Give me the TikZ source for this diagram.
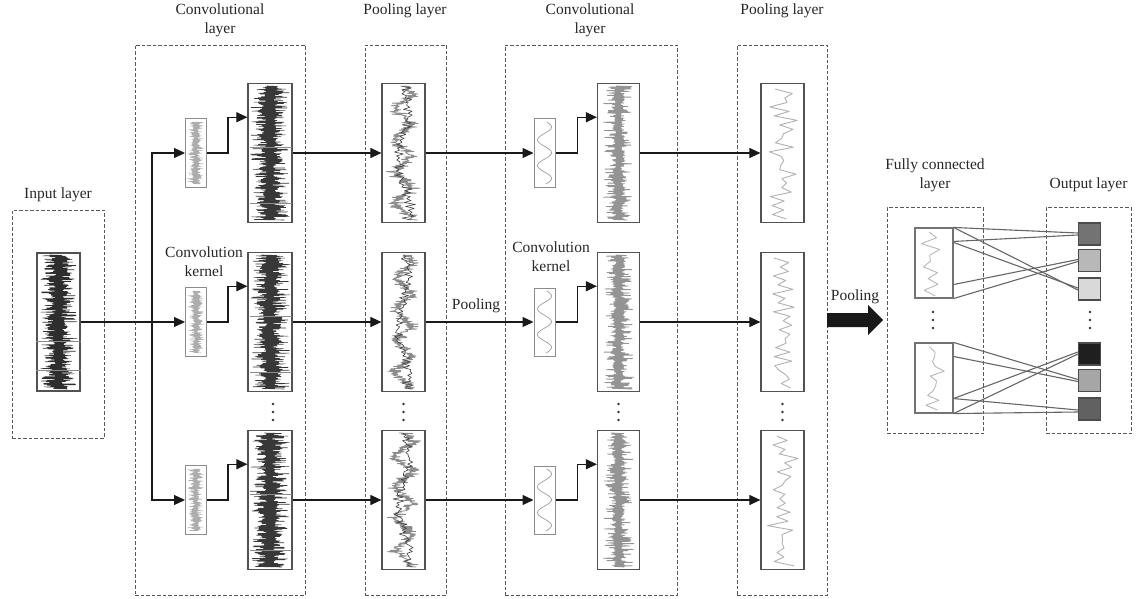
\documentclass[tikz,border=0pt]{standalone}
\usepackage{fontspec}
\setmainfont{Liberation Serif}
\usetikzlibrary{arrows.meta,calc}
% dense alternating waveform: cx, top, bottom, amp, N, colour, width, phase
\newcommand\densesig[8]{\draw[#6,line width=#7,line join=round] plot[variable=\i,domain=1:#5,samples=#5] ({#1+#4*(0.2+0.8*rnd)*(0.5+0.5*abs(sin(\i*(#8))))*cos(180*mod(\i,2))},{(#2)+(\i-1)*(((#3)-(#2))/(#5-1))});}
% spiky waveform
\newcommand\spikesig[7]{\draw[#6,line width=#7,line join=round] plot[variable=\i,domain=1:#5,samples=#5] ({#1+#4*(0.12+0.25*rnd+1.3*max(0,rnd-0.55))*cos(180*mod(\i,2))},{(#2)+(\i-1)*(((#3)-(#2))/(#5-1))});}
% irregular zigzag
\newcommand\zigsig[7]{\draw[#6,line width=#7,line join=round] plot[variable=\i,domain=1:#5,samples=#5] ({#1+#4*(0.45*rand+0.55*(0.2+0.8*rnd)*cos(180*mod(\i,2)))},{(#2)+(\i-1)*(((#3)-(#2))/(#5-1))});}
% wandering dense noisy line
\newcommand\wandersig[7]{\draw[#6,line width=#7,line join=round] plot[variable=\i,domain=1:#5,samples=#5] ({#1+#4*(0.45*sin(\i*7)+0.25*rand+0.35*rnd*cos(180*mod(\i,2)))},{(#2)+(\i-1)*(((#3)-(#2))/(#5-1))});}
\newcommand\sinesig[6]{\draw[#6,line width=0.7pt,smooth] plot[variable=\t,domain=#2:#3,samples=#5] ({#1+#4*sin((\t-(#2))*14+20)},{\t});}
\newcommand\threedots[2]{\foreach \dy in {0,8,16}{\fill[black!80] (#1,#2+\dy) circle (1.3pt);}}
\begin{document}
\begin{tikzpicture}[x=1pt,y=-1pt,
 dashbox/.style={draw=black!65, line width=0.9pt, dash pattern=on 3.5pt off 2pt, rectangle, inner sep=0pt},
 sigbox/.style={draw=black!68, line width=1.2pt, fill=white, rectangle, inner sep=0pt},
 kbox/.style={draw=black!45, line width=1pt, fill=white, rectangle, inner sep=0pt},
 lbl/.style={font=\fontsize{15.5}{19}\selectfont, align=center, inner sep=0pt, text=black!85},
 arr/.style={-{Triangle[length=11pt,width=10pt]}, line width=1.1pt, black!90},
 fcl/.style={draw=black!60, line width=1.1pt},
 osq/.style={draw=black!70, line width=1.2pt, minimum size=22pt, inner sep=0pt, rectangle},
 gridl/.style={draw=black!45, line width=0.5pt}]
\useasboundingbox (0,0) rectangle (1137,599);
\pgfmathsetseed{4242}

% dashed layer boxes
\node[dashbox, minimum width=92pt, minimum height=228pt] (Lin) at (58,324) {};
\node[dashbox, minimum width=170pt, minimum height=550pt] (Lc1) at (220,320) {};
\node[dashbox, minimum width=81pt, minimum height=550pt] (Lp1) at (405.5,320) {};
\node[dashbox, minimum width=172pt, minimum height=550pt] (Lc2) at (591,320) {};
\node[dashbox, minimum width=90pt, minimum height=550pt] (Lp2) at (782,320) {};
\node[dashbox, minimum width=96pt, minimum height=226pt] (Lfc) at (935,320.5) {};
\node[dashbox, minimum width=85pt, minimum height=226pt] (Lout) at (1088.5,320.5) {};

% layer labels
\node[lbl, anchor=north] at (220,4) {Convolutional\\layer};
\node[lbl, anchor=north] at (405,4) {Pooling layer};
\node[lbl, anchor=north] at (590,4) {Convolutional\\layer};
\node[lbl, anchor=north] at (782,4) {Pooling layer};
\node[lbl, anchor=south] at ([yshift=8pt]Lin.north) {Input layer};
\node[lbl, anchor=south] at ([yshift=15pt]Lfc.north) {Fully connected\\layer};
\node[lbl, anchor=south] at ([yshift=15pt]Lout.north) {Output layer};
\node[lbl] at (204,262) {Convolution\\kernel};
\node[lbl] at (551,257) {Convolution\\kernel};
\node[lbl] at (476,306) {Pooling};
\node[lbl] at (855,297) {Pooling};

% signal boxes
\node[sigbox, minimum width=43pt, minimum height=138pt] (in) at (58.5,322) {};
\foreach \r/\y in {a/153,b/322,c/500}{
  \node[kbox, minimum width=21pt, minimum height=69pt] (k1\r) at (196,\y) {};
  \node[sigbox, minimum width=44pt, minimum height=139pt] (f1\r) at (270,\y) {};
  \node[sigbox, minimum width=43pt, minimum height=139pt] (p1\r) at (403.5,\y) {};
  \node[kbox, minimum width=21pt, minimum height=68pt] (k2\r) at (544.5,\y) {};
  \node[sigbox, minimum width=42pt, minimum height=139pt] (f2\r) at (618.5,\y) {};
  \node[sigbox, minimum width=43pt, minimum height=139pt] (p2\r) at (782.5,\y) {};
}
\node[kbox, line width=1.1pt, draw=black!55, minimum width=38pt, minimum height=70pt] (fc1) at (934,263) {};
\node[kbox, line width=1.1pt, draw=black!55, minimum width=38pt, minimum height=70pt] (fc2) at (934,378) {};

% output squares
\node[osq, fill=black!55] (o1) at (1089.5,234) {};
\node[osq, fill=black!28] (o2) at (1089.5,260.5) {};
\node[osq, fill=black!15] (o3) at (1089.5,289) {};
\node[osq, fill=black!88] (o4) at (1089.5,354) {};
\node[osq, fill=black!35] (o5) at (1089.5,380.5) {};
\node[osq, fill=black!62] (o6) at (1089.5,409) {};

% arrows
\coordinate (j) at (152,322);
\draw[arr] (in.east) -- (k1b.west);
\draw[arr] (j) |- (k1a.west);
\draw[arr] (j) |- (k1c.west);
\foreach \r in {a,b,c}{
  \draw[arr] (k1\r.east) -- ++(21,0) |- ($(f1\r.north west)!0.245!(f1\r.south west)$);
  \draw[arr] (f1\r.east) -- (p1\r.west);
  \draw[arr] (p1\r.east) -- (k2\r.west);
  \draw[arr] (k2\r.east) -- ++(22,0) |- ($(f2\r.north west)!0.245!(f2\r.south west)$);
  \draw[arr] (f2\r.east) -- (p2\r.west);
}
\fill[black!90] (827,313) -- (868,313) -- (868,305) -- (883,320) -- (868,335) -- (868,327) -- (827,327) -- cycle;

% signals
\densesig{58.5}{255}{389}{19}{320}{black!82}{0.6pt}{23}
\draw[gridl] (in.west |- 0,341) -- (in.east |- 0,341);
\draw[gridl] (in.west |- 0,370) -- (in.east |- 0,370);
\foreach \y/\ph in {153/17,322/29,500/13}{
  \densesig{270}{\y-67}{\y+67}{20}{300}{black!78}{0.6pt}{\ph}
  \densesig{196}{\y-31}{\y+31}{8.5}{130}{black!32}{0.5pt}{\ph+11}
  \wandersig{403.5}{\y-67}{\y+67}{17}{220}{black!45}{0.8pt}
  \wandersig{403.5}{\y-67}{\y+67}{12}{70}{black!75}{0.6pt}
  \sinesig{544.5}{\y-31}{\y+31}{7}{70}{black!38}
  \spikesig{618.5}{\y-67}{\y+67}{17}{230}{black!42}{0.8pt}
  \zigsig{782.5}{\y-64}{\y+66}{16}{30}{black!30}{0.9pt}
  \draw[gridl] (250,\y-6) -- (292,\y-6);
  \draw[gridl] (250,\y+50) -- (292,\y+50);
}
\zigsig{932}{232}{296}{13}{12}{black!28}{0.9pt}
\zigsig{934}{347}{410}{13}{14}{black!28}{0.9pt}

% dots
\threedots{273}{404}
\threedots{403.5}{404}
\threedots{618.5}{404}
\threedots{782.5}{404}
\threedots{933}{312}
\threedots{1090}{312}

% fully connected links
\draw[fcl] (fc1.north east) -- ([yshift=1pt]o1.west);
\draw[fcl] (fc1.north east) -- ([yshift=-1pt]o3.west);
\draw[fcl] ([yshift=-14pt]fc1.north east) -- ([yshift=-1pt]o1.west);
\draw[fcl] ([yshift=-15pt]fc1.north east) -- ([yshift=1pt]o3.west);
\draw[fcl] ([yshift=14pt]fc1.south east) -- ([yshift=1pt]o2.west);
\draw[fcl] (fc1.south east) -- ([yshift=-1pt]o2.west);
\draw[fcl] (fc2.north east) -- ([yshift=1pt]o5.west);
\draw[fcl] ([yshift=-14pt]fc2.north east) -- ([yshift=-1pt]o5.west);
\draw[fcl] ([yshift=15pt]fc2.south east) -- ([yshift=2pt]o4.west);
\draw[fcl] ([yshift=15pt]fc2.south east) -- ([yshift=-1pt]o6.west);
\draw[fcl] (fc2.south east) -- (o4.west);
\draw[fcl] (fc2.south east) -- ([yshift=-3pt]o6.west);
\end{tikzpicture}
\end{document}
